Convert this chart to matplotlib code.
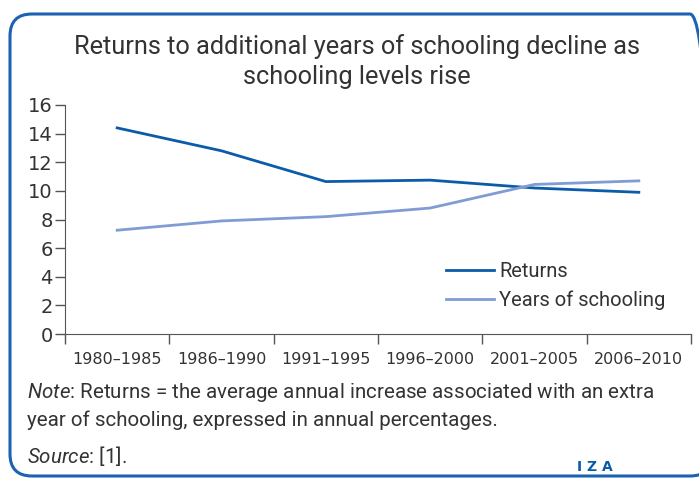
import matplotlib.pyplot as plt
from matplotlib.patches import FancyBboxPatch

periods = ["1980–1985", "1986–1990", "1991–1995", "1996–2000", "2001–2005", "2006–2010"]
returns = [14.4, 12.8, 10.65, 10.75, 10.2, 9.9]
years_of_schooling = [7.25, 7.9, 8.2, 8.8, 10.45, 10.7]

plt.rcParams["mathtext.fontset"] = "custom"
plt.rcParams["mathtext.rm"] = "Roboto"
plt.rcParams["mathtext.it"] = "Roboto:italic"

narrow = "Roboto"
dark_blue = "#0b5ca8"
light_blue = "#7f9dd3"
axis_grey = "#555555"
text_col = "#333333"

fig = plt.figure(figsize=(6.99, 4.78), dpi=100)
ax = fig.add_axes([65 / 699, 1 - 334 / 478, 626 / 699, 229 / 478])

x = [i + 0.5 for i in range(len(periods))]
ax.plot(x, returns, color=dark_blue, lw=2, label="Returns")
ax.plot(x, years_of_schooling, color=light_blue, lw=2, label="Years of schooling")

ax.set_xlim(0, len(periods))
ax.set_ylim(0, 16)
ax.set_yticks(range(0, 17, 2))
ax.set_xticks(range(len(periods) + 1))
ax.set_xticklabels([])
ax.set_xticks(x, minor=True)
ax.set_xticklabels(periods, minor=True)
ax.tick_params(axis="x", which="minor", length=0, pad=13, labelsize=11.5, labelcolor=text_col)
ax.tick_params(axis="x", which="major", length=7, direction="out", color=axis_grey, width=1)
ax.tick_params(axis="y", length=7, color=axis_grey, width=1, labelsize=14, labelcolor=text_col, pad=2)
for s in ["top", "right"]:
    ax.spines[s].set_visible(False)
for s in ["left", "bottom"]:
    ax.spines[s].set_color(axis_grey)

leg = ax.legend(loc="upper left", bbox_to_anchor=(373 / 626, (334 - 254) / 229), frameon=False,
                handlelength=2.4, handletextpad=0.25, labelspacing=0.45, borderaxespad=0,
                prop={"family": narrow, "size": 14.5})
for t in leg.get_texts():
    t.set_color(text_col)

fig.text(357 / 699, 1 - 47 / 478, "Returns to additional years of schooling decline as",
         ha="center", va="center", family=narrow, size=18.3, color=text_col)
fig.text(357 / 699, 1 - 77 / 478, "schooling levels rise",
         ha="center", va="center", family=narrow, size=18.3, color=text_col)

fig.text(27 / 699, 1 - 393 / 478, r"$\it{Note}$: Returns = the average annual increase associated with an extra",
         ha="left", va="center", family=narrow, size=14.8, color=text_col)
fig.text(27 / 699, 1 - 420 / 478, "year of schooling, expressed in annual percentages.",
         ha="left", va="center", family=narrow, size=14.8, color=text_col)
fig.text(27 / 699, 1 - 456 / 478, r"$\it{Source}$: [1].", ha="left", va="center", family=narrow,
         size=14.8, color=text_col)
fig.text(577 / 699, 1 - 467 / 478, "I Z A", ha="left", va="center", family="DejaVu Sans",
         size=10, weight="bold", color=dark_blue)

# frame: right side runs off the picture
frame = FancyBboxPatch((10 / 100, 2 / 100), 702 / 100, 462 / 100,
                       boxstyle="round,pad=0,rounding_size=0.22",
                       transform=fig.dpi_scale_trans, facecolor="none",
                       edgecolor="#1a63b0", lw=2.2, clip_on=False)
fig.patches.append(frame)

fig.savefig("out.png", dpi=100)
